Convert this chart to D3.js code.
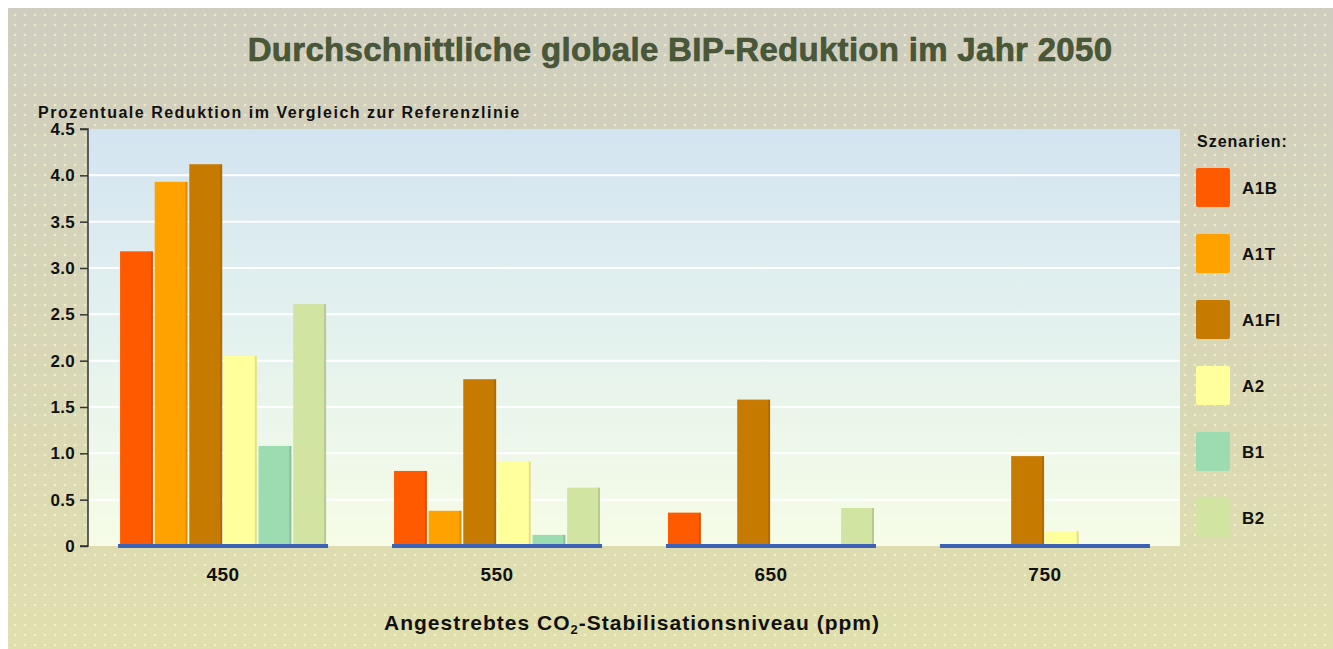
<!DOCTYPE html>
<html><head><meta charset="utf-8">
<script src="https://cdn.jsdelivr.net/npm/d3@7"></script>
<style>html,body{margin:0;padding:0;background:#fff;}svg{display:block;}</style>
</head><body>
<svg id="c" width="1333" height="649"></svg>
<script>
const categories = ["450", "550", "650", "750"];
const series = ["A1B", "A1T", "A1FI", "A2", "B1", "B2"];
const seriesLabels = ["A1B", "A1T", "A1FI", "A2", "B1", "B2"];
const valuesA1B  = [3.18, 0.81, 0.36, 0.00];
const valuesA1T  = [3.93, 0.38, 0.02, 0.00];
const valuesA1FI = [4.12, 1.80, 1.58, 0.97];
const valuesA2   = [2.05, 0.91, 0.00, 0.16];
const valuesB1   = [1.08, 0.12, 0.00, 0.00];
const valuesB2   = [2.61, 0.63, 0.41, 0.00];
const yTicks = [0, 0.5, 1.0, 1.5, 2.0, 2.5, 3.0, 3.5, 4.0, 4.5];
const colors = ["#ff5a00", "#ffa200", "#c77a00", "#ffff9c", "#9cdcb0", "#d2e4a2"];

const valuesBySeries = [valuesA1B, valuesA1T, valuesA1FI, valuesA2, valuesB1, valuesB2];
const data = categories.map((c, i) => ({cat: c, vals: series.map((s, j) => ({s, v: valuesBySeries[j][i]}))}));

const FONT = "Liberation Sans, Arial, Helvetica, sans-serif";
const svg = d3.select("#c");
const defs = svg.append("defs");
const bgGrad = defs.append("linearGradient").attr("id", "bg").attr("x1", 0).attr("y1", 0).attr("x2", 0).attr("y2", 1);
bgGrad.append("stop").attr("offset", "0%").attr("stop-color", "#cfcdbf");
bgGrad.append("stop").attr("offset", "100%").attr("stop-color", "#e0dfae");
const plotGrad = defs.append("linearGradient").attr("id", "pg").attr("x1", 0).attr("y1", 0).attr("x2", 0).attr("y2", 1);
plotGrad.append("stop").attr("offset", "0%").attr("stop-color", "#d3e4f1");
plotGrad.append("stop").attr("offset", "50%").attr("stop-color", "#e4f2ee");
plotGrad.append("stop").attr("offset", "100%").attr("stop-color", "#f6fce6");
const dots = defs.append("pattern").attr("id", "dots").attr("width", 10).attr("height", 10).attr("patternUnits", "userSpaceOnUse");
dots.append("circle").attr("cx", 5).attr("cy", 5).attr("r", 1.3).attr("fill", "#fffbd0").attr("opacity", 0.6);

const W = 1333, H = 649;
svg.append("rect").attr("x", 8).attr("y", 8).attr("width", W - 8).attr("height", H - 8).attr("fill", "url(#bg)");
svg.append("rect").attr("x", 8).attr("y", 8).attr("width", W - 8).attr("height", H - 8).attr("fill", "url(#dots)");

const m = {left: 88, right: 1180, top: 129, bottom: 546};
const x0 = d3.scaleBand().domain(categories).range([m.left, m.right]).paddingInner(0.248).paddingOuter(0.117);
const x1 = d3.scaleBand().domain(series).range([0, x0.bandwidth()]).paddingInner(0.05);
const y = d3.scaleLinear().domain([0, 4.5]).range([m.bottom, m.top]);
const color = d3.scaleOrdinal().domain(series).range(colors);

svg.append("rect").attr("x", m.left).attr("y", m.top).attr("width", m.right - m.left).attr("height", m.bottom - m.top).attr("fill", "url(#pg)");

// gridlines
svg.append("g").selectAll("line").data(yTicks.filter(t => t > 0 && t < 4.5)).join("line")
  .attr("x1", m.left).attr("x2", m.right).attr("y1", d => y(d)).attr("y2", d => y(d))
  .attr("stroke", "#ffffff").attr("stroke-width", 2);

// bars
const g = svg.append("g").selectAll("g").data(data).join("g").attr("transform", d => `translate(${x0(d.cat)},0)`);
g.selectAll("rect.bar").data(d => d.vals.filter(e => e.v > 0)).join("rect").attr("class", "bar")
  .attr("x", d => x1(d.s)).attr("width", x1.bandwidth())
  .attr("y", d => y(d.v)).attr("height", d => y(0) - y(d.v))
  .attr("fill", d => color(d.s));
g.selectAll("rect.edge").data(d => d.vals.filter(e => e.v > 0)).join("rect").attr("class", "edge")
  .attr("x", d => x1(d.s) + x1.bandwidth() - 2).attr("width", 2)
  .attr("y", d => y(d.v)).attr("height", d => y(0) - y(d.v))
  .attr("fill", "#000").attr("opacity", 0.12);

// blue baselines
svg.append("g").selectAll("line").data(categories).join("line")
  .attr("x1", d => x0(d) - 2).attr("x2", d => x0(d) + x0.bandwidth() + 2)
  .attr("y1", y(0)).attr("y2", y(0))
  .attr("stroke", "#3b62b4").attr("stroke-width", 4);

// y axis
const yAxis = d3.axisLeft(y).tickValues(yTicks).tickFormat(d => d === 0 ? "0" : d3.format(".1f")(d)).tickSize(8).tickPadding(5);
const ya = svg.append("g").attr("transform", `translate(${m.left},0)`).call(yAxis);
ya.select(".domain").attr("stroke", "#333").attr("stroke-width", 1.5).attr("d", `M-8,${m.top}H0V${m.bottom}H-8`);
ya.selectAll(".tick line").attr("stroke", "#333").attr("stroke-width", 1.5);
ya.selectAll(".tick text").attr("font-family", FONT).attr("font-weight", "bold").attr("font-size", 17)
  .attr("letter-spacing", "0.3px").attr("fill", "#111");

// x axis labels
const xAxis = d3.axisBottom(x0).tickSize(0).tickPadding(22);
const xa = svg.append("g").attr("transform", `translate(0,${m.bottom})`).call(xAxis);
xa.select(".domain").remove();
xa.selectAll(".tick text").attr("font-family", FONT).attr("font-weight", "bold").attr("font-size", 19)
  .attr("letter-spacing", "0.5px").attr("fill", "#111");

// titles
svg.append("text").attr("x", 680).attr("y", 61).attr("text-anchor", "middle")
  .attr("font-family", FONT).attr("font-weight", "bold").attr("font-size", 33).attr("letter-spacing", "0.3px")
  .attr("fill", "#4a5838").attr("stroke", "#3c4a30").attr("stroke-width", 0.6)
  .text("Durchschnittliche globale BIP-Reduktion im Jahr 2050");
svg.append("text").attr("x", 38).attr("y", 118)
  .attr("font-family", FONT).attr("font-weight", "bold").attr("font-size", 16).attr("letter-spacing", "1.5px").attr("fill", "#111")
  .text("Prozentuale Reduktion im Vergleich zur Referenzlinie");
const xt = svg.append("text").attr("x", 632).attr("y", 630).attr("text-anchor", "middle")
  .attr("font-family", FONT).attr("font-weight", "bold").attr("font-size", 21).attr("letter-spacing", "1px").attr("fill", "#111");
xt.append("tspan").text("Angestrebtes CO");
xt.append("tspan").attr("font-size", 13).attr("dy", 4).text("2");
xt.append("tspan").attr("dy", -4).text("-Stabilisationsniveau (ppm)");

// legend
svg.append("text").attr("x", 1197).attr("y", 147)
  .attr("font-family", FONT).attr("font-weight", "bold").attr("font-size", 16).attr("letter-spacing", "1px").attr("fill", "#111")
  .text("Szenarien:");
const leg = svg.append("g").selectAll("g").data(series).join("g")
  .attr("transform", (d, i) => `translate(1196,${168 + i * 66})`);
leg.append("rect").attr("width", 34).attr("height", 39).attr("rx", 2).attr("fill", d => color(d));
leg.append("text").attr("x", 46).attr("y", 26)
  .attr("font-family", FONT).attr("font-weight", "bold").attr("font-size", 17).attr("letter-spacing", "0.5px").attr("fill", "#111")
  .text((d, i) => seriesLabels[i]);
</script>
</body></html>
